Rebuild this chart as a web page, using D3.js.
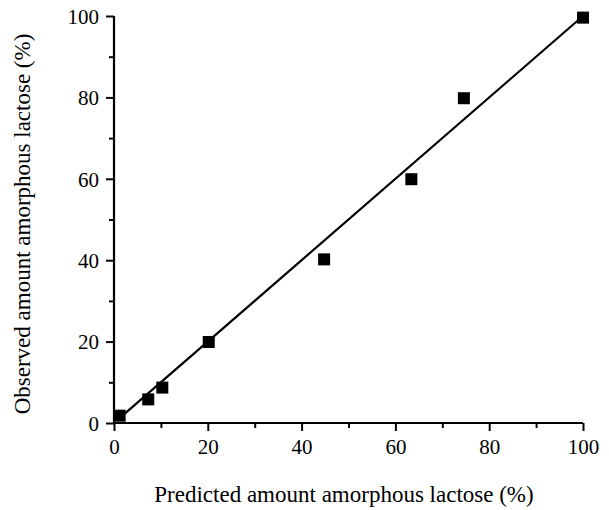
<!DOCTYPE html>
<html>
<head>
<meta charset="utf-8">
<title>amorphous lactose</title>
<script src="https://d3js.org/d3.v7.min.js"></script>
<style>
  body { margin: 0; background: #fff; }
  text { font-family: "Liberation Serif", "Times New Roman", serif; fill: #000; }
</style>
</head>
<body>
<script>
// data
var predicted = [1.2, 7.3, 10.3, 20.2, 44.8, 63.4, 74.6, 100];
var observed  = [1.8, 5.8, 8.7, 19.9, 40.2, 59.9, 79.8, 99.6];
var fitX = [1, 100];
var fitY = [1, 100];
var majorTicks = [0, 20, 40, 60, 80, 100];
var minorTicks = [10, 30, 50, 70, 90];

var width = 609, height = 510;
var x0 = 114, x1 = 583, y0 = 423, y1 = 16;

var x = d3.scaleLinear().domain([0, 100]).range([x0, x1]);
var y = d3.scaleLinear().domain([0, 100]).range([y0, y1]);

var svg = d3.select("body").append("svg")
  .attr("width", width)
  .attr("height", height);

// axes
var xAxis = d3.axisBottom(x).tickValues(majorTicks).tickSize(8).tickPadding(8);
var yAxis = d3.axisLeft(y).tickValues(majorTicks).tickSize(8).tickPadding(7);

var gx = svg.append("g").attr("transform", "translate(0," + y0 + ")").call(xAxis);
var gy = svg.append("g").attr("transform", "translate(" + x0 + ",0)").call(yAxis);

// minor ticks
gx.append("g").call(d3.axisBottom(x).tickValues(minorTicks).tickSize(5).tickFormat(""))
  .select(".domain").remove();
gy.append("g").call(d3.axisLeft(y).tickValues(minorTicks).tickSize(5).tickFormat(""))
  .select(".domain").remove();

[gx, gy].forEach(function(g) {
  g.selectAll(".domain").attr("stroke-width", 2.2).attr("d", null);
  g.selectAll("line").attr("stroke", "#000").attr("stroke-width", 2);
  g.selectAll("text").style("font-size", "21px").attr("font-family", null);
});
gx.select(".domain").attr("d", "M" + x0 + ",0H" + x1).attr("stroke", "#000");
gy.select(".domain").attr("d", "M0," + y0 + "V" + y1).attr("stroke", "#000");
gy.selectAll(".tick text").attr("dy", "0.35em");

// fitted line
svg.append("line")
  .attr("x1", x(fitX[0])).attr("y1", y(fitY[0]))
  .attr("x2", x(fitX[1])).attr("y2", y(fitY[1]))
  .attr("stroke", "#000").attr("stroke-width", 2.2);

// points
var s = 12;
svg.selectAll("rect.pt")
  .data(predicted.map(function(d, i) { return [d, observed[i]]; }))
  .enter().append("rect")
  .attr("class", "pt")
  .attr("x", function(d) { return x(d[0]) - s / 2; })
  .attr("y", function(d) { return y(d[1]) - s / 2; })
  .attr("width", s).attr("height", s)
  .attr("fill", "#000");

// axis titles
svg.append("text")
  .attr("x", 344).attr("y", 502)
  .attr("text-anchor", "middle")
  .style("font-size", "23px")
  .text("Predicted amount amorphous lactose (%)");

svg.append("text")
  .attr("transform", "translate(30,224) rotate(-90)")
  .attr("text-anchor", "middle")
  .style("font-size", "23px")
  .text("Observed amount amorphous lactose (%)");
</script>
</body>
</html>
